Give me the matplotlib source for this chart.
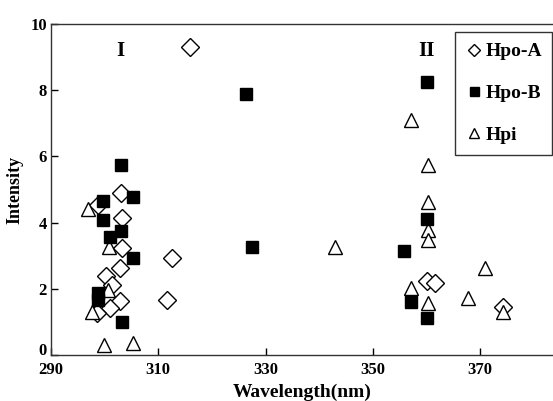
import matplotlib
matplotlib.use("Agg")
from matplotlib import pyplot as plt
from matplotlib import transforms

# Hpo-A (open diamonds)
hpo_a_x = [303.0, 298.8, 303.2, 303.2, 302.9, 300.3, 301.4, 302.9, 301.0, 298.6,
           315.9, 312.6, 311.6, 360.1, 361.6, 374.2]
hpo_a_y = [4.89, 4.53, 4.14, 3.23, 2.62, 2.38, 2.12, 1.64, 1.42, 1.27,
           9.31, 2.93, 1.66, 2.24, 2.18, 1.45]

# Hpo-B (filled squares)
hpo_b_x = [303.0, 305.3, 299.7, 299.7, 303.0, 301.0, 305.3, 298.8, 298.8, 303.2,
           326.3, 327.5, 355.8, 360.1, 357.1, 360.1, 360.1]
hpo_b_y = [5.74, 4.77, 4.65, 4.08, 3.75, 3.57, 2.93, 1.88, 1.66, 1.0,
           7.89, 3.26, 3.14, 4.11, 1.60, 1.12, 8.25]

# Hpi (open triangles)
hpi_x = [296.9, 300.8, 300.6, 297.6, 299.9, 305.3, 342.9, 357.1, 360.3, 360.3,
         360.3, 360.3, 357.1, 360.3, 367.7, 370.9, 374.2]
hpi_y = [4.41, 3.26, 1.96, 1.30, 0.30, 0.36, 3.26, 7.10, 5.74, 4.62,
         3.78, 3.47, 2.02, 1.57, 1.72, 2.63, 1.30]

xticks = [290, 310, 330, 350, 370]
yticks = [0, 2, 4, 6, 8, 10]

plt.rcParams['font.family'] = 'Liberation Serif'
plt.rcParams['font.weight'] = 'bold'

fig = plt.figure(figsize=(5.53, 4.01), dpi=100)
ax = fig.add_axes([0.0922, 0.1147, 0.9078, 0.8253])

ax.plot(hpo_a_x, hpo_a_y, 'D', ms=9, mfc='white', mec='black', mew=1.0, label='Hpo-A', zorder=3)
ax.plot(hpo_b_x, hpo_b_y, 's', ms=9, mfc='black', mec='black', mew=1.0, label='Hpo-B', zorder=4)
ax.plot(hpi_x, hpi_y, '^', ms=10, mfc='white', mec='black', mew=1.0, label='Hpi', zorder=3)

ax.set_xlim(290, 383.6)
ax.set_ylim(0, 10)
ax.set_xticks(xticks)
ax.set_yticks(yticks)
ax.tick_params(direction='in', length=5, width=1, labelsize=12)
ax.tick_params(axis='x', pad=5)
ax.tick_params(axis='y', pad=3)
for lab in ax.get_xticklabels() + ax.get_yticklabels():
    lab.set_fontweight('bold')

# lift the "0" a little so it clears the "290" below it
zero = ax.get_yticklabels()[0]
zero.set_transform(zero.get_transform() + transforms.ScaledTranslation(0, 6 / 100, fig.dpi_scale_trans))

ax.spines['right'].set_visible(False)
for s in ['left', 'bottom', 'top']:
    ax.spines[s].set_linewidth(1.0)
    ax.spines[s].set_color('#333333')

ax.set_xlabel('Wavelength(nm)', fontsize=14, fontweight='bold', labelpad=4)
ax.set_ylabel('Intensity', fontsize=13, fontweight='bold', labelpad=5)

ax.text(302.9, 9.2, 'I', fontsize=15, fontweight='bold', ha='center', va='center')
ax.text(360.1, 9.2, 'II', fontsize=15, fontweight='bold', ha='center', va='center')

leg = ax.legend(loc='upper right', bbox_to_anchor=(0.999, 0.976), borderaxespad=0,
                frameon=True, fancybox=False, edgecolor='black', fontsize=14,
                labelspacing=1.25, handletextpad=0.1, handlelength=0.9,
                borderpad=0.55, markerscale=0.72)
leg.get_frame().set_linewidth(1.0)
for t in leg.get_texts():
    t.set_fontweight('bold')

fig.savefig('out.png', dpi=100)
